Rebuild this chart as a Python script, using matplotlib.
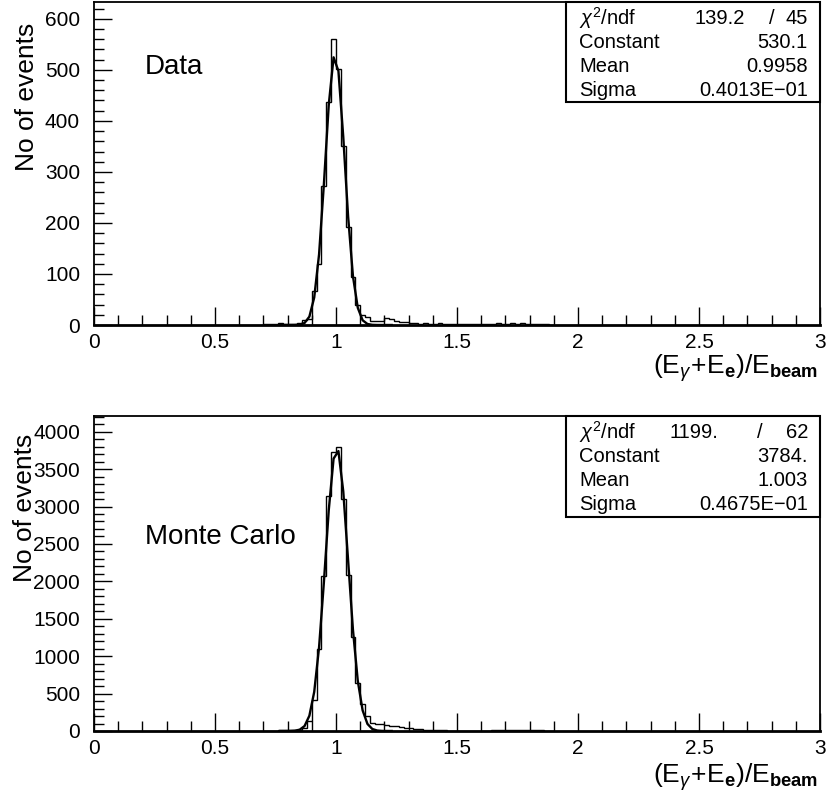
import numpy as np
import matplotlib
matplotlib.use("Agg")
import matplotlib.pyplot as plt
from matplotlib.ticker import MultipleLocator, FuncFormatter
from matplotlib.patches import Rectangle

# ---------------------------------------------------------------
# Histogram contents: 0.02-wide bins starting at x = 0.70
# ---------------------------------------------------------------
bin_width = 0.02
first_edge = 0.70

data_counts = [
    1, 2, 1, 3, 2, 2, 1, 3, 9, 12,
    67, 119, 273, 438, 561, 501, 350, 193, 95, 39,
    19, 16, 8, 8, 8, 14, 12, 8, 6, 5,
    3, 3, 2, 3, 2, 2, 3, 1, 2, 1,
    1, 2, 1, 2, 1, 2, 1, 2, 3, 1,
    2, 3, 2, 3, 2, 1, 2, 1, 1, 0,
]

mc_counts = [
    4, 5, 6, 8, 9, 11, 14, 20, 38, 130,
    414, 1100, 2072, 3142, 3735, 3792, 3106, 2090, 1261, 637,
    366, 205, 110, 100, 92, 82, 72, 63, 54, 45,
    37, 29, 23, 18, 14, 10, 8, 7, 5, 4,
    3, 2, 2, 2, 3, 4, 5, 8, 10, 11,
    12, 12, 13, 14, 14, 16, 15, 12, 5, 0,
]

# Gaussian fit results
data_fit = {"chi2": "139.2", "ndf": "45", "constant": 530.1, "constant_txt": "530.1",
            "mean": 0.9958, "mean_txt": "0.9958", "sigma": 0.04013, "sigma_txt": "0.4013E\u221201"}
mc_fit = {"chi2": "1199.", "ndf": "62", "constant": 3784.0, "constant_txt": "3784.",
          "mean": 1.003, "mean_txt": "1.003", "sigma": 0.04675, "sigma_txt": "0.4675E\u221201"}

x_ticklabels = ["0", "0.5", "1", "1.5", "2", "2.5", "3"]

W, H = 829, 796
fig = plt.figure(figsize=(W / 100, H / 100), dpi=100)

TICK_FONT = ["Liberation Sans Narrow", "DejaVu Sans Condensed", "Liberation Sans"]
TEXT_FONT = ["Liberation Sans", "DejaVu Sans"]
plt.rcParams["mathtext.fontset"] = "custom"
plt.rcParams["mathtext.rm"] = "Liberation Sans"
plt.rcParams["mathtext.it"] = "Liberation Sans:italic"
plt.rcParams["mathtext.bf"] = "Liberation Sans:bold"


def box(l, t, r, b):
    return [l / W, 1 - b / H, (r - l) / W, (b - t) / H]


def fx(x):
    return x / W


def fy(y):
    return 1 - y / H


def draw_panel(ax, counts, fit, ymax, ymajor, yminor):
    counts = np.asarray(counts, dtype=float)
    edges = first_edge + bin_width * np.arange(len(counts) + 1)
    ax.stairs(counts, edges, color="black", lw=1.0, baseline=0)

    # fitted Gaussian evaluated at the bin centres
    centres = 0.5 * (edges[:-1] + edges[1:])
    sel = (centres > 0.76) & (centres < 1.24)
    xc = centres[sel]
    yc = fit["constant"] * np.exp(-0.5 * ((xc - fit["mean"]) / fit["sigma"]) ** 2)
    ax.plot(xc, yc, color="black", lw=1.7)

    ax.set_xlim(0, 3)
    ax.set_ylim(0, ymax)
    ax.xaxis.set_major_locator(MultipleLocator(0.5))
    ax.xaxis.set_minor_locator(MultipleLocator(0.1))
    ax.yaxis.set_major_locator(MultipleLocator(ymajor))
    ax.yaxis.set_minor_locator(MultipleLocator(yminor))
    ax.xaxis.set_major_formatter(FuncFormatter(lambda v, p: x_ticklabels[int(round(v * 2))]
                                               if 0 <= int(round(v * 2)) < len(x_ticklabels) else ""))
    ax.yaxis.set_major_formatter(FuncFormatter(lambda v, p: "%d" % v))
    ax.tick_params(axis="both", which="both", direction="in", top=False, right=False)
    ax.tick_params(axis="both", which="major", length=13, width=1.0, labelsize=15)
    ax.tick_params(axis="both", which="minor", length=7, width=1.0)
    ax.tick_params(axis="x", which="major", pad=6)
    ax.tick_params(axis="y", which="major", pad=10)
    for lab in ax.get_xticklabels() + ax.get_yticklabels():
        lab.set_family(TICK_FONT)
    for s in ax.spines.values():
        s.set_linewidth(1.3)
    ax.spines["bottom"].set_linewidth(2.0)


def stats_box(top, bottom, fit, chi_right, slash_x):
    left, right = 566, 820
    fig.patches.append(Rectangle((fx(left), fy(bottom)), fx(right) - fx(left), fy(top) - fy(bottom),
                                 transform=fig.transFigure, facecolor="white",
                                 edgecolor="black", lw=1.5, zorder=5))
    rows = [top + 16.5, top + 40.5, top + 64.5, top + 88.5]
    kw = dict(fontsize=14.5, family=TEXT_FONT, va="center", zorder=6)
    fig.text(fx(579), fy(rows[0]), r"$\chi^2$/ndf", ha="left", **kw)
    fig.text(fx(chi_right), fy(rows[0]), fit["chi2"], ha="right", **kw)
    fig.text(fx(slash_x), fy(rows[0]), "/", ha="center", **kw)
    fig.text(fx(808), fy(rows[0]), fit["ndf"], ha="right", **kw)
    for lab, key, y in [("Constant", "constant_txt", rows[1]),
                        ("Mean", "mean_txt", rows[2]),
                        ("Sigma", "sigma_txt", rows[3])]:
        fig.text(fx(579), fy(y), lab, ha="left", **kw)
        fig.text(fx(808), fy(y), fit[key], ha="right", **kw)


xlabel = r"$(\mathrm{E}_{\gamma}\!+\!\mathrm{E}_{\mathbf{e}})/\mathrm{E}_{\mathbf{beam}}$"

ax1 = fig.add_axes(box(94, 2, 820, 325))
draw_panel(ax1, data_counts, data_fit, 633, 100, 20)
ax2 = fig.add_axes(box(94, 416, 820, 731))
draw_panel(ax2, mc_counts, mc_fit, 4210, 500, 100)

stats_box(2, 102, data_fit, 745, 772)
stats_box(416, 517, mc_fit, 718, 760)

fig.text(fx(145), fy(67), "Data", fontsize=20, family=TEXT_FONT, ha="left", va="center")
fig.text(fx(145), fy(537), "Monte Carlo", fontsize=20, family=TEXT_FONT, ha="left", va="center")

fig.text(fx(27), fy(97), "No of events", rotation=90, fontsize=19, family=TEXT_FONT,
         ha="center", va="center")
fig.text(fx(25), fy(508), "No of events", rotation=90, fontsize=19, family=TEXT_FONT,
         ha="center", va="center")

fig.text(fx(818), fy(368), xlabel, fontsize=19, ha="right", va="center")
fig.text(fx(818), fy(777), xlabel, fontsize=19, ha="right", va="center")

fig.savefig("out.png", dpi=100, facecolor="white")
